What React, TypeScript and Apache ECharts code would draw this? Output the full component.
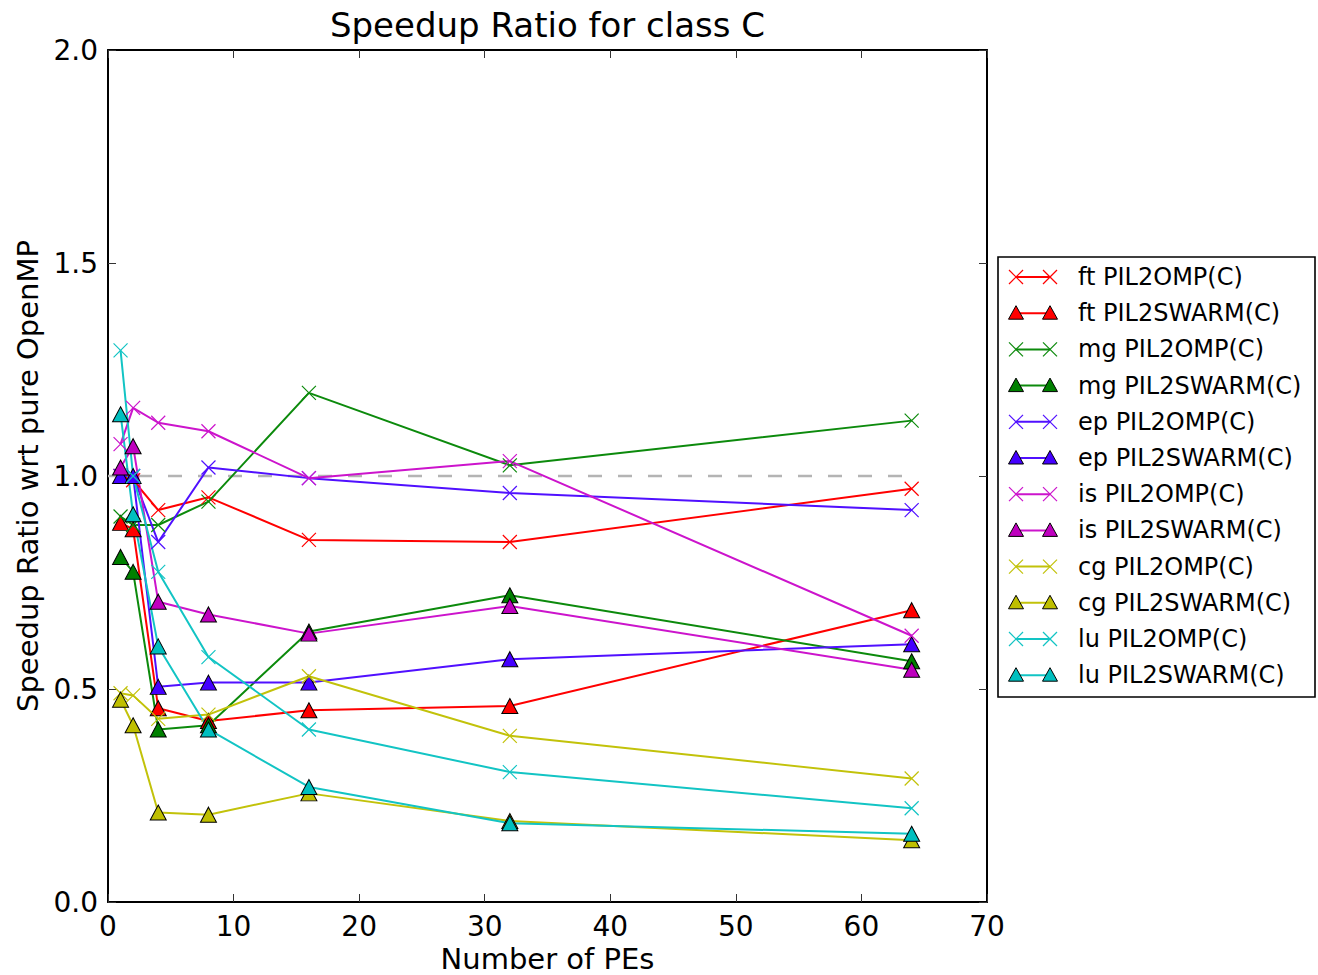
import React, { useEffect, useRef } from "react";
import * as echarts from "echarts";

// Number of PEs (x values)
const PES = [1, 2, 4, 8, 16, 32, 64];

// Speedup ratio values
const ftOmp = [1.0, 0.99, 0.92, 0.95, 0.85, 0.845, 0.97];
const ftSwarm = [0.89, 0.875, 0.455, 0.425, 0.45, 0.46, 0.685];
const mgOmp = [0.905, 0.885, 0.885, 0.94, 1.195, 1.025, 1.13];
const mgSwarm = [0.81, 0.775, 0.405, 0.415, 0.635, 0.72, 0.565];
const epOmp = [1.0, 1.0, 0.845, 1.02, 0.995, 0.96, 0.92];
const epSwarm = [1.0, 1.0, 0.505, 0.515, 0.515, 0.57, 0.605];
const isOmp = [1.075, 1.16, 1.125, 1.105, 0.995, 1.035, 0.625];
const isSwarm = [1.02, 1.07, 0.705, 0.675, 0.63, 0.695, 0.545];
const cgOmp = [0.49, 0.485, 0.43, 0.44, 0.53, 0.39, 0.29];
const cgSwarm = [0.475, 0.415, 0.21, 0.205, 0.255, 0.19, 0.145];
const luOmp = [1.295, 1.0, 0.775, 0.575, 0.405, 0.305, 0.22];
const luSwarm = [1.145, 0.91, 0.6, 0.405, 0.27, 0.185, 0.16];

// Reference line (pure OpenMP = 1.0)
const BASELINE_X = [0, 64];
const BASELINE_Y = [1.0, 1.0];

const SERIES_NAMES = [
  "ft PIL2OMP(C)",
  "ft PIL2SWARM(C)",
  "mg PIL2OMP(C)",
  "mg PIL2SWARM(C)",
  "ep PIL2OMP(C)",
  "ep PIL2SWARM(C)",
  "is PIL2OMP(C)",
  "is PIL2SWARM(C)",
  "cg PIL2OMP(C)",
  "cg PIL2SWARM(C)",
  "lu PIL2OMP(C)",
  "lu PIL2SWARM(C)",
];
const SERIES_VALUES = [
  ftOmp, ftSwarm, mgOmp, mgSwarm, epOmp, epSwarm,
  isOmp, isSwarm, cgOmp, cgSwarm, luOmp, luSwarm,
];

const FONT = "DejaVu Sans";

const LINE_COLORS = [
  "#ff0000", "#ff0000",
  "#0c8a0c", "#0c8a0c",
  "#5010ff", "#5010ff",
  "#cc14cc", "#cc14cc",
  "#c2c20a", "#c2c20a",
  "#12c4c4", "#12c4c4",
];
const FILL_COLORS = [
  "#ff0000", "#ff0000",
  "#008000", "#008000",
  "#4400ff", "#4400ff",
  "#bf00bf", "#bf00bf",
  "#bfbf00", "#bfbf00",
  "#00bfbf", "#00bfbf",
];

const X_PATH = "path://M0,0L10,10M10,0L0,10";

function buildLegend() {
  const left = 998;
  const top = 257;
  const w = 317;
  const h = 440;
  const rowTop = 277;
  const rowStep = 36.2;
  const m1 = 1016;
  const m2 = 1050;
  const children: any[] = [
    {
      type: "rect",
      shape: { x: left, y: top, width: w, height: h },
      style: { fill: "#fff", stroke: "#000", lineWidth: 1.6 },
    },
  ];
  SERIES_NAMES.forEach((name, i) => {
    const y = rowTop + i * rowStep;
    const c = LINE_COLORS[i];
    const isTri = i % 2 === 1;
    children.push({
      type: "line",
      shape: { x1: m1, y1: y, x2: m2, y2: y },
      style: { stroke: c, lineWidth: 2 },
    });
    [m1, m2].forEach((mx) => {
      if (isTri) {
        children.push({
          type: "polygon",
          shape: {
            points: [
              [mx, y - 7.5],
              [mx + 7.5, y + 6],
              [mx - 7.5, y + 6],
            ],
          },
          style: { fill: FILL_COLORS[i], stroke: "#000", lineWidth: 1 },
        });
      } else {
        children.push({
          type: "line",
          shape: { x1: mx - 7, y1: y - 7, x2: mx + 7, y2: y + 7 },
          style: { stroke: c, lineWidth: 1.2 },
        });
        children.push({
          type: "line",
          shape: { x1: mx - 7, y1: y + 7, x2: mx + 7, y2: y - 7 },
          style: { stroke: c, lineWidth: 1.2 },
        });
      }
    });
    children.push({
      type: "text",
      x: 1078,
      y: y,
      style: {
        text: name,
        fill: "#000",
        font: `24px '${FONT}'`,
        textAlign: "left",
        textVerticalAlign: "middle",
        verticalAlign: "middle",
      },
    });
  });
  return { type: "group", children, z: 100 };
}

export default function App() {
  const ref = useRef<HTMLDivElement>(null);

  useEffect(() => {
    if (!ref.current) return;
    const chart = echarts.init(ref.current, undefined, { renderer: "svg" });

    const axisCommon = {
      type: "value" as const,
      axisLine: { show: true, onZero: false, lineStyle: { color: "#000", width: 2 } },
      axisTick: { show: true, inside: true, length: 8, lineStyle: { color: "#333", width: 1 } },
      splitLine: { show: false },
    };

    const dataSeries = SERIES_NAMES.map((name, i) => {
      const isTri = i % 2 === 1;
      return {
        name,
        type: "line",
        data: PES.map((p, k) => [p, SERIES_VALUES[i][k]]),
        symbol: isTri ? "triangle" : X_PATH,
        symbolSize: isTri ? [16, 15] : 14,
        showSymbol: true,
        lineStyle: { color: LINE_COLORS[i], width: 2 },
        itemStyle: isTri
          ? { color: FILL_COLORS[i], borderColor: "#000", borderWidth: 1 }
          : { color: LINE_COLORS[i], borderColor: LINE_COLORS[i], borderWidth: 1.2 },
        z: 3,
      };
    });

    const option: any = {
      animation: false,
      backgroundColor: "#fff",
      textStyle: { fontFamily: FONT },
      grid: { left: 108, top: 50, right: 331, bottom: 73, containLabel: false, outerBoundsMode: "none" },
      xAxis: [
        {
          ...axisCommon,
          position: "bottom",
          min: 0,
          max: 70,
          interval: 10,
          axisLabel: { color: "#000", fontSize: 28, fontFamily: FONT, margin: 10 },
          name: "Number of PEs",
          nameLocation: "middle",
          nameGap: 40,
          nameTextStyle: { color: "#000", fontSize: 29, fontFamily: FONT },
        },
        {
          ...axisCommon,
          position: "top",
          min: 0,
          max: 70,
          interval: 10,
          axisLabel: { show: false },
        },
      ],
      yAxis: [
        {
          ...axisCommon,
          position: "left",
          min: 0,
          max: 2,
          interval: 0.5,
          axisLabel: {
            color: "#000",
            fontSize: 28,
            fontFamily: FONT,
            margin: 10,
            formatter: (v: number) => v.toFixed(1),
          },
          name: "Speedup Ratio wrt pure OpenMP",
          nameLocation: "middle",
          nameGap: 66,
          nameTextStyle: { color: "#000", fontSize: 29, fontFamily: FONT },
        },
        {
          ...axisCommon,
          position: "right",
          min: 0,
          max: 2,
          interval: 0.5,
          axisLabel: { show: false },
        },
      ],
      series: [
        {
          name: "baseline",
          type: "line",
          data: BASELINE_X.map((x, k) => [x, BASELINE_Y[k]]),
          symbol: "none",
          lineStyle: { color: "#b4b4b4", width: 2.6, type: [14, 16] },
          z: 2,
          silent: true,
        },
        ...dataSeries,
      ],
      graphic: [
        {
          type: "text",
          x: 547.5,
          y: 25,
          style: {
            text: "Speedup Ratio for class C",
            fill: "#000",
            font: `34px '${FONT}'`,
            textAlign: "center",
            verticalAlign: "middle",
            textVerticalAlign: "middle",
          },
        },
        buildLegend(),
      ],
    };

    chart.setOption(option);
    return () => chart.dispose();
  }, []);

  return (
    <div
      ref={ref}
      style={{ position: "fixed", left: 0, top: 0, width: 1318, height: 975, background: "#fff" }}
    />
  );
}
